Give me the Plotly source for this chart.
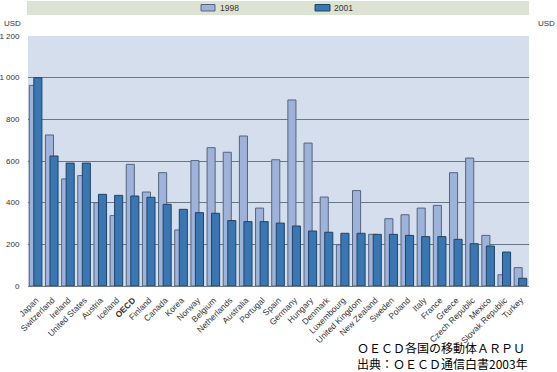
import plotly.graph_objects as go

categories = ["Japan", "Switzerland", "Ireland", "United States", "Austria", "Iceland", "OECD",
              "Finland", "Canada", "Korea", "Norway", "Belgium", "Netherlands", "Australia",
              "Portugal", "Spain", "Germany", "Hungary", "Denmark", "Luxembourg",
              "United Kingdom", "New Zealand", "Sweden", "Poland", "Italy", "France", "Greece",
              "Czech Republic", "Mexico", "Slovak Republic", "Turkey"]
usd_1998 = [963, 725, 514, 530, 400, 338, 584, 451, 544, 269, 602, 664, 642, 720, 374, 606,
            893, 686, 427, 198, 458, 248, 323, 342, 374, 387, 544, 614, 243, 54, 88]
usd_2001 = [1000, 624, 590, 590, 440, 435, 432, 426, 392, 368, 352, 349, 314, 309, 309, 302,
            288, 264, 258, 253, 253, 248, 248, 243, 237, 237, 224, 203, 192, 163, 37]
y_ticks = [0, 200, 400, 600, 800, 1000, 1200]
y_tick_labels = ["0", "200", "400", "600", "800", "1 000", "1 200"]
series_names = ["1998", "2001"]
caption_lines = ["ＯＥＣＤ各国の移動体ＡＲＰＵ", "出典：ＯＥＣＤ通信白書2003年"]

tick_text = ["<b>%s</b>" % c if c == "OECD" else c for c in categories]

C98, C98L = "#9fb2d9", "#55647f"
C01, C01L = "#3a76b2", "#1f4468"
FONT = "Arial, Liberation Sans, sans-serif"

fig = go.Figure()
fig.add_trace(go.Bar(x=categories, y=usd_1998, name=series_names[0], offset=-0.42, width=0.5,
                     marker=dict(color=C98, line=dict(color=C98L, width=1)), showlegend=False))
fig.add_trace(go.Bar(x=categories, y=usd_2001, name=series_names[1], offset=-0.14, width=0.5,
                     marker=dict(color=C01, line=dict(color=C01L, width=1)), showlegend=False))

W, H = 557, 372
ML, MR, MT, MB = 28, 28, 36, 86
pw, ph = W - ML - MR, H - MT - MB

def px(xp):
    return (xp - ML) / pw

def py(yp):
    return (H - MB - yp) / ph

shapes = [
    dict(type="rect", xref="paper", yref="paper", x0=px(27), x1=px(529), y0=py(15), y1=py(1),
         fillcolor="#dde3d3", line=dict(width=0), layer="below"),
    dict(type="rect", xref="paper", yref="paper", x0=px(201), x1=px(215), y0=py(11), y1=py(4.5),
         fillcolor=C98, line=dict(color=C98L, width=1)),
    dict(type="rect", xref="paper", yref="paper", x0=px(315), x1=px(330), y0=py(11), y1=py(4.5),
         fillcolor=C01, line=dict(color=C01L, width=1)),
]
annotations = [
    dict(text=series_names[0], xref="paper", yref="paper", x=px(218), y=py(8), xanchor="left",
         yanchor="middle", showarrow=False, font=dict(size=8.5, color="#333", family=FONT)),
    dict(text=series_names[1], xref="paper", yref="paper", x=px(332), y=py(8), xanchor="left",
         yanchor="middle", showarrow=False, font=dict(size=8.5, color="#333", family=FONT)),
    dict(text="USD", xref="paper", yref="paper", x=px(2), y=py(24), xanchor="left",
         yanchor="middle", showarrow=False, font=dict(size=8, color="#333", family=FONT)),
    dict(text="USD", xref="paper", yref="paper", x=px(536), y=py(24), xanchor="left",
         yanchor="middle", showarrow=False, font=dict(size=8, color="#333", family=FONT)),
    dict(text="<br>".join(caption_lines), xref="paper", yref="paper", x=px(355), y=py(355),
         xanchor="left", yanchor="middle", align="left", showarrow=False,
         font=dict(size=12, color="#000", family="Noto Sans CJK JP")),
]

fig.update_layout(
    width=W, height=H,
    margin=dict(l=ML, r=MR, t=MT, b=MB, pad=0, autoexpand=False),
    barmode="overlay",
    paper_bgcolor="white",
    plot_bgcolor="#d4deec",
    showlegend=False,
    shapes=shapes,
    annotations=annotations,
    font=dict(family=FONT, size=8, color="#333"),
    xaxis=dict(tickmode="array", tickvals=categories, ticktext=tick_text, tickangle=-45,
               range=[-0.5, len(categories) - 0.5], showgrid=False, ticks="outside",
               ticklen=5, tickcolor="rgba(0,0,0,0)", tickfont=dict(size=8.5, color="#333"),
               showline=False, zeroline=False, automargin=False),
    yaxis=dict(range=[0, 1200], tickmode="array", tickvals=y_ticks, ticktext=y_tick_labels,
               showgrid=True, gridcolor="#6a7787", gridwidth=1, zeroline=True,
               zerolinecolor="#6a7787", zerolinewidth=1, ticks="outside", ticklen=6,
               tickcolor="rgba(0,0,0,0)", tickfont=dict(size=8, color="#333"), showline=False,
               automargin=False),
    yaxis2=dict(range=[0, 1200], overlaying="y", side="right", tickmode="array",
                tickvals=y_ticks, ticktext=y_tick_labels, showgrid=False, zeroline=False,
                ticks="outside", ticklen=5, tickcolor="rgba(0,0,0,0)",
                tickfont=dict(size=8, color="#333"), showline=False, automargin=False),
)

fig.write_html("out.html", config={"displayModeBar": False},
               post_script="document.body.style.margin='0';document.body.style.overflow='hidden';")
